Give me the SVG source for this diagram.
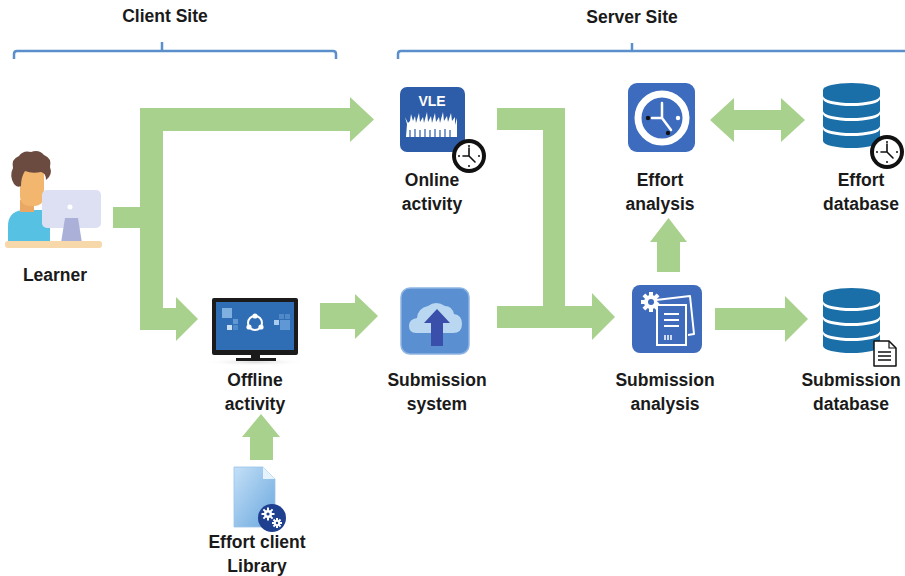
<svg xmlns="http://www.w3.org/2000/svg" width="905" height="576" viewBox="0 0 905 576">
  <defs>
    <style>
      .lbl { font-family: "Liberation Sans", Arial, sans-serif; font-weight: bold; font-size: 17.5px; fill: #1a1a1a; text-anchor: middle; }
      .brace { fill: none; stroke: #5b8fcc; stroke-width: 2.5; }
      .flow { fill: #a9d18e; }
      .db { fill: #1b6fa8; }
      .clock-ring { fill: #111; }
      .clock-face { fill: #fff; }
      .clock-hand { stroke: #111; stroke-width: 1.6; stroke-linecap: round; fill: none; }
    </style>
    <linearGradient id="docGrad" x1="0" y1="0" x2="1" y2="1">
      <stop offset="0" stop-color="#c4e0f7"/>
      <stop offset="1" stop-color="#6aa7de"/>
    </linearGradient>
    <radialGradient id="shadow" cx="0.5" cy="0.5" r="0.5">
      <stop offset="0" stop-color="#d9d9d9"/>
      <stop offset="1" stop-color="#ffffff" stop-opacity="0"/>
    </radialGradient>
    <!-- small black clock badge, centred on the origin -->
    <g id="clockBadge">
      <circle r="17" class="clock-ring"/>
      <circle r="13" class="clock-face"/>
      <circle cx="0" cy="-10" r="1" fill="#111"/>
      <circle cx="10" cy="0" r="1" fill="#111"/>
      <circle cx="0" cy="10" r="1" fill="#111"/>
      <circle cx="-10" cy="0" r="1" fill="#111"/>
      <path class="clock-hand" d="M0,0 L0,-8 M0,0 L6,6 M0,0 L-6,0"/>
    </g>
    <!-- stacked database cylinder, top-left at the origin -->
    <g id="dbStack">
      <path class="db" d="M0,7 A28.5,7 0 0 1 57,7 L57,13 A28.5,7 0 0 1 0,13 Z"/>
      <path class="db" d="M0,16 A28.5,7 0 0 0 57,16 L57,28 A28.5,7 0 0 1 0,28 Z"/>
      <path class="db" d="M0,31 A28.5,7 0 0 0 57,31 L57,43 A28.5,7 0 0 1 0,43 Z"/>
      <path class="db" d="M0,46 A28.5,7 0 0 0 57,46 L57,58 A28.5,7 0 0 1 0,58 Z"/>
    </g>
  </defs>

  <rect width="905" height="576" fill="#ffffff"/>

  <!-- site headers -->
  <g id="client-site">
    <text class="lbl" x="165" y="22">Client Site</text>
    <path class="brace" d="M14,59 L14,54 Q14,51 17,51 L333,51 Q336,51 336,54 L336,59 M162,51 L162,42"/>
  </g>
  <g id="server-site">
    <text class="lbl" x="632" y="23">Server Site</text>
    <path class="brace" d="M398,59 L398,54 Q398,51 401,51 L905,51 M632,51 L632,43"/>
  </g>

  <!-- connectors -->
  <g id="connectors">
    <!-- learner to online / offline activity -->
    <rect class="flow" x="113" y="207" width="46" height="21"/>
    <rect class="flow" x="140" y="108" width="23" height="222"/>
    <polygon class="flow" points="140,108 350,108 350,97 374,119.5 350,142 350,131 140,131"/>
    <polygon class="flow" points="140,308 176,308 176,297 198,319 176,341 176,330 140,330"/>
    <!-- offline activity to submission system -->
    <polygon class="flow" points="320,303 355,303 355,294 378,316 355,339 355,329 320,329"/>
    <!-- online activity to submission analysis -->
    <polygon class="flow" points="497,108 565,108 565,306 592,306 592,293 615,317 592,340 592,328 497,328 497,306 543,306 543,130 497,130"/>
    <!-- effort analysis to effort database (both ways) -->
    <polygon class="flow" points="710,120 734,98 734,110 781,110 781,98 805,120 781,142 781,130 734,130 734,142"/>
    <!-- submission analysis to effort analysis -->
    <polygon class="flow" points="668.5,218 687,242 680,242 680,272 657,272 657,242 650,242"/>
    <!-- submission analysis to submission database -->
    <polygon class="flow" points="715,308 785,308 785,296 808,319 785,342 785,330 715,330"/>
    <!-- client library to offline activity -->
    <polygon class="flow" points="261,414 280,437 273,437 273,460 250,460 250,437 242,437"/>
  </g>

  <!-- learner -->
  <g id="learner">
    <path d="M8,242 L8,226 Q8,212 22,210 L50,210 L50,242 Z" fill="#56c1e3"/>
    <rect x="20" y="200" width="14" height="12" fill="#e9a863"/>
    <rect x="20" y="166" width="24" height="40" rx="9" fill="#f2b66f"/>
    <path d="M14,184 Q9,176 13,168 Q11,159 19,156 Q23,150 31,152 Q39,149 44,155 Q52,158 50,167 Q53,175 46,180 Q46,173 41,172 Q32,174 25,171 Q21,177 21,186 Q17,188 14,184 Z" fill="#6b4a40"/>
    <rect x="42" y="190" width="59" height="38" rx="5" fill="#dde0f3"/>
    <circle cx="70" cy="207" r="2.5" fill="#ffffff"/>
    <polygon points="65,218 78,218 82,243 61,243" fill="#aab0d8"/>
    <rect x="5" y="241" width="97" height="7" rx="3" fill="#f6d8aa"/>
    <text class="lbl" x="55" y="281">Learner</text>
  </g>

  <!-- online activity (VLE) -->
  <g id="online-activity">
    <rect x="400" y="87" width="65" height="65" rx="7" fill="#2d5ca8"/>
    <text x="432" y="106" font-family="Liberation Sans, Arial, sans-serif" font-weight="bold" font-size="14" fill="#ffffff" text-anchor="middle">VLE</text>
    <path d="M406,137 L407,124 L405,117 L408,123 L410,121 L411,114 L413,121 L415,116 L416,123 L419,113 L420,122 L423,117 L424,123 L427,112 L428,122 L431,116 L432,123 L435,113 L436,122 L439,117 L440,123 L443,112 L444,121 L447,116 L448,122 L451,113 L452,121 L455,117 L455,125 L457,118 L457,137 Z" fill="#ffffff"/>
    <path d="M410,137 L410,130 M415,137 L415,129 M420,137 L420,130 M425,137 L425,129 M430,137 L430,130 M435,137 L435,129 M440,137 L440,130 M445,137 L445,129 M450,137 L450,130" stroke="#2d5ca8" stroke-width="1.2"/>
    <use href="#clockBadge" x="469" y="156"/>
    <text class="lbl" x="432" y="186">Online</text>
    <text class="lbl" x="432" y="210">activity</text>
  </g>

  <!-- effort analysis -->
  <g id="effort-analysis">
    <rect x="628" y="83" width="67" height="69" rx="9" fill="#3d6cbf"/>
    <circle cx="662" cy="118" r="24" fill="none" stroke="#ffffff" stroke-width="7"/>
    <path d="M662,118 L662,103 M662,118 L652,118 M662,118 L671,130" stroke="#ffffff" stroke-width="2.5" stroke-linecap="round"/>
    <circle cx="648" cy="118" r="2.2" fill="#111"/>
    <circle cx="668" cy="133" r="2.2" fill="#111"/>
    <circle cx="678" cy="118" r="2.2" fill="#ffffff"/>
    <text class="lbl" x="660" y="186">Effort</text>
    <text class="lbl" x="660" y="210">analysis</text>
  </g>

  <!-- effort database -->
  <g id="effort-database">
    <use href="#dbStack" x="823" y="83"/>
    <use href="#clockBadge" x="887" y="152"/>
    <text class="lbl" x="861" y="186">Effort</text>
    <text class="lbl" x="861" y="210">database</text>
  </g>

  <!-- offline activity -->
  <g id="offline-activity">
    <ellipse cx="255" cy="362" rx="52" ry="4" fill="url(#shadow)"/>
    <rect x="212" y="298" width="86" height="57" rx="2" fill="#1b1b1b"/>
    <rect x="216" y="302" width="78" height="48" fill="#2f6db5"/>
    <rect x="222" y="308" width="10" height="10" fill="#7fb0e0"/>
    <rect x="233" y="319" width="5" height="5" fill="#5f98d4"/>
    <rect x="227" y="325" width="5" height="5" fill="#c9def3"/>
    <rect x="233" y="325" width="5" height="5" fill="#4f89c8"/>
    <rect x="279" y="314" width="5" height="5" fill="#4f89c8"/>
    <rect x="285" y="314" width="5" height="5" fill="#4f89c8"/>
    <rect x="274" y="320" width="5" height="5" fill="#a9cbee"/>
    <rect x="280" y="320" width="10" height="10" fill="#5f98d4"/>
    <circle cx="255" cy="323" r="7" fill="none" stroke="#ffffff" stroke-width="2"/>
    <circle cx="255" cy="316" r="2.6" fill="#ffffff"/>
    <circle cx="249" cy="327" r="2.6" fill="#ffffff"/>
    <circle cx="261" cy="327" r="2.6" fill="#ffffff"/>
    <rect x="251" y="355" width="9" height="4" fill="#1b1b1b"/>
    <rect x="236" y="358" width="40" height="3" fill="#1b1b1b"/>
    <text class="lbl" x="255" y="386">Offline</text>
    <text class="lbl" x="255" y="410">activity</text>
  </g>

  <!-- submission system -->
  <g id="submission-system">
    <rect x="401" y="288" width="68" height="66" rx="9" fill="#5a8fd2" stroke="#8fb5e3" stroke-width="1.5"/>
    <path d="M416,333 Q409,333 409,326 Q409,319 417,318 Q418,308 428,306 Q436,300 445,306 Q452,306 454,314 Q462,315 462,324 Q462,333 453,333 Z" fill="#b9d7f1"/>
    <polygon points="437,309 450,323 443,323 443,346 431,346 431,323 424,323" fill="#3a4faa"/>
    <text class="lbl" x="437" y="386">Submission</text>
    <text class="lbl" x="437" y="410">system</text>
  </g>

  <!-- submission analysis -->
  <g id="submission-analysis">
    <rect x="632" y="285" width="70" height="68" rx="8" fill="#3e6bbc"/>
    <g fill="#ffffff">
      <circle cx="651" cy="302" r="7"/>
      <rect x="649" y="292" width="4" height="20"/>
      <rect x="641" y="300" width="20" height="4"/>
      <rect x="649" y="292" width="4" height="20" transform="rotate(45 651 302)"/>
      <rect x="649" y="292" width="4" height="20" transform="rotate(-45 651 302)"/>
    </g>
    <circle cx="651" cy="302" r="3" fill="#3e6bbc"/>
    <path d="M656,300 L690,296 L694,334 L688,335" fill="#3e6bbc" stroke="#ffffff" stroke-width="2" stroke-linejoin="round"/>
    <rect x="657" y="305" width="29" height="40" fill="#3e6bbc" stroke="#ffffff" stroke-width="2"/>
    <path d="M664,314 L679,314 M664,320 L679,320 M664,326 L679,326" stroke="#ffffff" stroke-width="2"/>
    <path d="M665,335 L665,340 M668,335 L668,340 M671,335 L671,340" stroke="#ffffff" stroke-width="1.5"/>
    <text class="lbl" x="665" y="386">Submission</text>
    <text class="lbl" x="665" y="410">analysis</text>
  </g>

  <!-- submission database -->
  <g id="submission-database">
    <use href="#dbStack" x="823" y="288"/>
    <path d="M874,341 L889,341 L896,348 L896,366 L874,366 Z" fill="#ffffff" stroke="#111" stroke-width="1.5" stroke-linejoin="round"/>
    <path d="M889,341 L889,348 L896,348" fill="none" stroke="#111" stroke-width="1.2"/>
    <path d="M878,352 L891,352 M878,356 L891,356 M878,360 L891,360" stroke="#111" stroke-width="1.5"/>
    <text class="lbl" x="851" y="386">Submission</text>
    <text class="lbl" x="851" y="410">database</text>
  </g>

  <!-- effort client library -->
  <g id="effort-client-library">
    <path d="M234,467 L263,467 L275,479 L275,527 L234,527 Z" fill="url(#docGrad)" stroke="#9cc3e8" stroke-width="0.8"/>
    <path d="M263,467 L263,479 L275,479 Z" fill="#e6f2fc"/>
    <circle cx="272" cy="518" r="14" fill="#1f3f8f"/>
    <g fill="#ffffff">
      <circle cx="268" cy="514" r="4"/>
      <rect x="267" y="507.5" width="2" height="13"/>
      <rect x="261.5" y="513" width="13" height="2"/>
      <rect x="267" y="507.5" width="2" height="13" transform="rotate(45 268 514)"/>
      <rect x="267" y="507.5" width="2" height="13" transform="rotate(-45 268 514)"/>
      <circle cx="277" cy="523" r="3"/>
      <rect x="276" y="518" width="2" height="10"/>
      <rect x="272" y="522" width="10" height="2"/>
      <rect x="276" y="518" width="2" height="10" transform="rotate(45 277 523)"/>
      <rect x="276" y="518" width="2" height="10" transform="rotate(-45 277 523)"/>
    </g>
    <circle cx="268" cy="514" r="1.6" fill="#1f3f8f"/>
    <circle cx="277" cy="523" r="1.2" fill="#1f3f8f"/>
    <text class="lbl" x="257" y="548">Effort client</text>
    <text class="lbl" x="257" y="572">Library</text>
  </g>
</svg>
